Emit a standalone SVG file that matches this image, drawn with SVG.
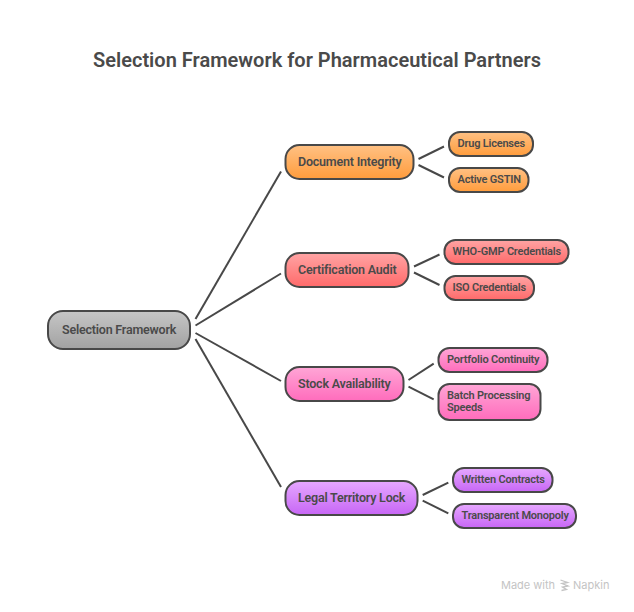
<svg xmlns="http://www.w3.org/2000/svg" width="634" height="612" viewBox="0 0 634 612">
<style>
text{font-family:Roboto,"Liberation Sans",sans-serif;fill:#4a4a4a;font-weight:600}
.n{stroke:#484848;stroke-width:2}
.p{font-size:12.5px;letter-spacing:-.21px}
.c{font-size:11px;letter-spacing:-.2px}
.t{font-size:20px;letter-spacing:.01px}
.m{font-size:11px;fill:#c4c4c4;font-weight:400;font-family:Inter,"Liberation Sans",sans-serif}
#connectors line{stroke:#484848;stroke-width:2;fill:none}
</style>
<defs>
<linearGradient id="gGrey" x1="0" y1="0" x2="0" y2="1"><stop offset="0" stop-color="#c6c6c6"/><stop offset="1" stop-color="#a2a2a2"/></linearGradient>
<linearGradient id="gOrange" x1="0" y1="0" x2="0" y2="1"><stop offset="0" stop-color="#ffc184"/><stop offset="1" stop-color="#ff9c3c"/></linearGradient>
<linearGradient id="gRed" x1="0" y1="0" x2="0" y2="1"><stop offset="0" stop-color="#ffa4a4"/><stop offset="1" stop-color="#ff6a6a"/></linearGradient>
<linearGradient id="gPink" x1="0" y1="0" x2="0" y2="1"><stop offset="0" stop-color="#ffa6d6"/><stop offset="1" stop-color="#ff6cbc"/></linearGradient>
<linearGradient id="gPurple" x1="0" y1="0" x2="0" y2="1"><stop offset="0" stop-color="#e6a8ff"/><stop offset="1" stop-color="#c766f5"/></linearGradient>
</defs>
<rect width="634" height="612" fill="#ffffff"/>
<text id="title" class="t" x="317" y="67" text-anchor="middle">Selection Framework for Pharmaceutical Partners</text>
<g id="connectors">
<line x1="195.5" y1="319" x2="281" y2="171.5"/>
<line x1="195.5" y1="325.5" x2="281" y2="273.5"/>
<line x1="195.5" y1="333" x2="281" y2="381"/>
<line x1="195.5" y1="339" x2="281" y2="487"/>
<line x1="418.5" y1="159" x2="444" y2="146.5"/>
<line x1="418.5" y1="165" x2="444" y2="177.5"/>
<line x1="414" y1="266.5" x2="439.5" y2="254.5"/>
<line x1="414" y1="272.5" x2="439.5" y2="285"/>
<line x1="408.5" y1="380" x2="433.7" y2="363.7"/>
<line x1="408.5" y1="386.7" x2="433.7" y2="399.3"/>
<line x1="422.7" y1="495" x2="448.3" y2="482.7"/>
<line x1="422.7" y1="500.7" x2="448.3" y2="513.3"/>
</g>
<g id="root"><rect class="n" x="48" y="311" width="142" height="38" rx="15" fill="url(#gGrey)"/><text class="p" x="62" y="334">Selection Framework</text></g>
<g id="doc"><rect class="n" x="285.5" y="145" width="128" height="34" rx="14" fill="url(#gOrange)"/><text class="p" x="298" y="166">Document Integrity</text></g>
<g id="drug"><rect class="n" x="449" y="132" width="84" height="24" rx="11" fill="url(#gOrange)"/><text class="c" x="457.5" y="147">Drug Licenses</text></g>
<g id="gstin"><rect class="n" x="449" y="168" width="79.5" height="24" rx="11" fill="url(#gOrange)"/><text class="c" x="457.5" y="183">Active GSTIN</text></g>
<g id="cert"><rect class="n" x="285.5" y="253" width="123" height="34" rx="14" fill="url(#gRed)"/><text class="p" x="298" y="274">Certification Audit</text></g>
<g id="who"><rect class="n" x="444.5" y="240" width="124" height="24" rx="11" fill="url(#gRed)"/><text class="c" x="452.5" y="255">WHO-GMP Credentials</text></g>
<g id="iso"><rect class="n" x="444.5" y="276" width="89.5" height="24" rx="11" fill="url(#gRed)"/><text class="c" x="452.5" y="291">ISO Credentials</text></g>
<g id="stock"><rect class="n" x="285.5" y="367" width="118" height="34" rx="14" fill="url(#gPink)"/><text class="p" x="298" y="388">Stock Availability</text></g>
<g id="portfolio"><rect class="n" x="438.5" y="348" width="109" height="24" rx="11" fill="url(#gPink)"/><text class="c" x="447" y="363">Portfolio Continuity</text></g>
<g id="batch"><rect class="n" x="438.5" y="384" width="102" height="36" rx="11" fill="url(#gPink)"/><text class="c" x="447" y="399">Batch Processing</text><text class="c" x="447" y="411">Speeds</text></g>
<g id="legal"><rect class="n" x="285.5" y="481" width="132" height="34" rx="14" fill="url(#gPurple)"/><text class="p" x="298" y="502">Legal Territory Lock</text></g>
<g id="written"><rect class="n" x="453" y="468" width="99.5" height="24" rx="11" fill="url(#gPurple)"/><text class="c" x="461.5" y="483">Written Contracts</text></g>
<g id="monopoly"><rect class="n" x="453" y="504" width="123" height="24" rx="11" fill="url(#gPurple)"/><text class="c" x="461.5" y="519">Transparent Monopoly</text></g>
<g id="watermark"><text class="m" x="501" y="589">Made with</text><path d="M560.5 580l7 2.5-5.500 1 6 2.500-5.500 1 4 2.500-5 1" fill="none" stroke="#c4c4c4" stroke-width="1.300"/><text class="m" x="573" y="589">Napkin</text></g>
</svg>
